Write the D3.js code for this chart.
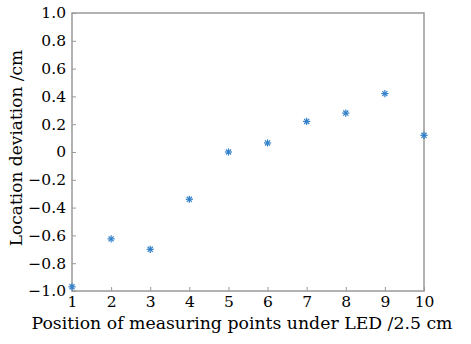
<!DOCTYPE html>
<html><head><meta charset="utf-8">
<script src="https://cdn.jsdelivr.net/npm/d3@7"></script>
<style>body{margin:0;background:#fff}svg{display:block}</style>
</head><body>
<svg id="c" width="471" height="344"></svg>
<script>
const positions = [1,2,3,4,5,6,7,8,9,10];
const deviations = [-0.97,-0.625,-0.70,-0.34,0.0,0.065,0.22,0.28,0.42,0.12];
const xTicks = [1,2,3,4,5,6,7,8,9,10];
const yTicks = [-1.0,-0.8,-0.6,-0.4,-0.2,0,0.2,0.4,0.6,0.8,1.0];
const yTickLabels = ["\u22121.0","\u22120.8","\u22120.6","\u22120.4","\u22120.2","0","0.2","0.4","0.6","0.8","1.0"];
const xLabel = "Position of measuring points under LED /2.5 cm";
const yLabel = "Location deviation /cm";

const svg = d3.select("#c");
const L=72,R=424,T=13,B=291;
const x = d3.scaleLinear().domain([1,10]).range([L,R]);
const y = d3.scaleLinear().domain([-1,1]).range([B,T]);
const font = "'DejaVu Serif', serif";

// frame
svg.append("rect").attr("x",L).attr("y",T).attr("width",R-L).attr("height",B-T)
  .attr("fill","none").attr("stroke","#999").attr("stroke-width",1.5);

const xAxis = svg.append("g").attr("transform",`translate(0,${B})`)
  .call(d3.axisBottom(x).tickValues(xTicks).tickSize(-4).tickPadding(5).tickFormat(d3.format("d")));
const yAxis = svg.append("g").attr("transform",`translate(${L},0)`)
  .call(d3.axisLeft(y).tickValues(yTicks).tickSize(-4).tickPadding(6).tickFormat((d,i)=>yTickLabels[i]));
[xAxis,yAxis].forEach(g=>{
  g.select(".domain").remove();
  g.selectAll(".tick line").attr("stroke","#999").attr("stroke-width",1);
  g.selectAll(".tick text").attr("fill","#000").style("font-family",font).style("font-size","15.5px");
});

// markers: 8-arm asterisk
const pts = svg.append("g");
const arm = 3.6;
positions.forEach((p,i)=>{
  const g = pts.append("g").attr("transform",`translate(${x(p)},${y(deviations[i])})`);
  [0,45,90,135].forEach(a=>{
    const r=a*Math.PI/180;
    g.append("line").attr("x1",-arm*Math.cos(r)).attr("y1",-arm*Math.sin(r))
      .attr("x2",arm*Math.cos(r)).attr("y2",arm*Math.sin(r))
      .attr("stroke","#2f7fc9").attr("stroke-width",1.2);
  });
});

svg.append("text").attr("x",242).attr("y",329).attr("text-anchor","middle")
  .style("font-family",font).style("font-size","17.3px").text(xLabel);
svg.append("text").attr("transform",`translate(22,148) rotate(-90)`).attr("text-anchor","middle")
  .style("font-family",font).style("font-size","17px").text(yLabel);
</script>
</body></html>
